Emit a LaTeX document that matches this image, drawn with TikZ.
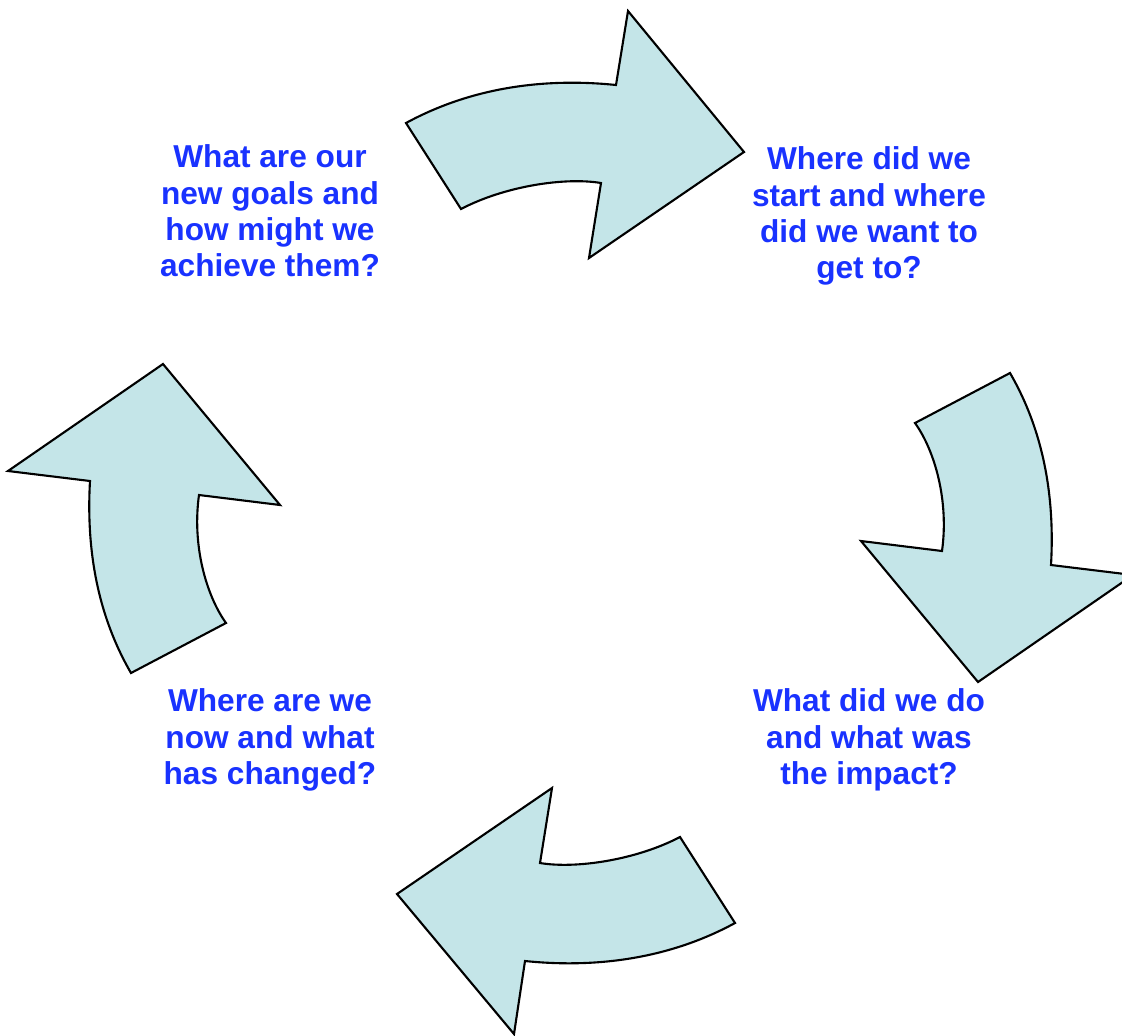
\documentclass[tikz,border=0pt]{standalone}
\usepackage{fontspec}
\setmainfont{Liberation Sans}
\usepackage{xcolor}
\usepackage{tikz}
\definecolor{arrowfill}{RGB}{196,229,232}
\definecolor{textblue}{RGB}{25,50,255}

\begin{document}
\begin{tikzpicture}[x = 0.1mm, y = -0.1mm,
		bigarrow/.style = {draw = black, fill = arrowfill, line width = 0.6pt, line join = miter},
		question/.style = {align = center, text = textblue, inner sep = 0pt, anchor = north,
			font = \fontsize{9}{10.35}\selectfont\bfseries}]
				\useasboundingbox (0,0) rectangle (1122,1035);
				\clip (0,0) rectangle (1122,1035);
				\draw[bigarrow] (406,123) .. controls (474,86) and (548,78) .. (616,85) -- (628,11) -- (744,152) -- (589,258) -- (601,183) .. controls (565,177) and (505,186) .. (461,209) -- cycle;
				\draw[bigarrow] (1010,373) .. controls (1043,430) and (1055,495) .. (1051,565) -- (1133,575) -- (978,682) -- (861,541) -- (942,551) .. controls (949,501) and (935,451) .. (915,423) -- cycle;
				\draw[bigarrow] (735,923) .. controls (667,960) and (593,968) .. (525,961) -- (514,1034) -- (397,894) -- (552,788) -- (540,863) .. controls (576,869) and (636,860) .. (680,837) -- cycle;
				\draw[bigarrow] (131,673) .. controls (98,616) and (86,551) .. (90,481) -- (8,471) -- (163,364) -- (280,505) -- (199,495) .. controls (192,545) and (206,595) .. (226,623) -- cycle;
				\node[question] (g) at (270,144) {What are our\\new goals and\\how might we\\achieve them?};
				\node[question] (s) at (869,146) {Where did we\\start and where\\did we want to\\get to?};
				\node[question] (i) at (869,688) {What did we do\\and what was\\the impact?};
				\node[question] (n) at (270,688) {Where are we\\now and what\\has changed?};
\end{tikzpicture}
\end{document}
